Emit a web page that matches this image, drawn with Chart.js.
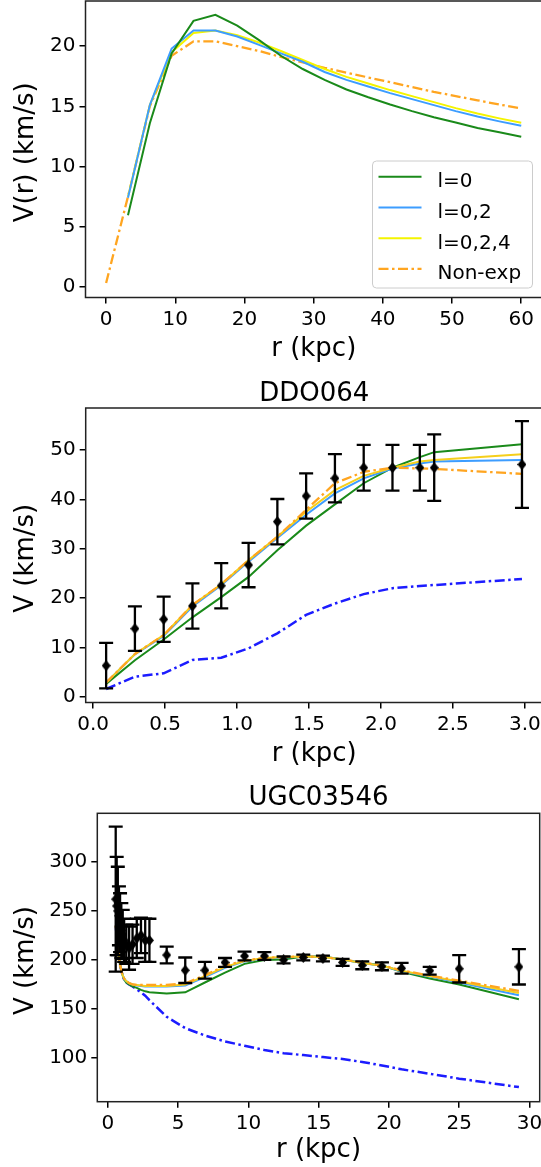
<!DOCTYPE html>
<html>
<head>
<meta charset="utf-8">
<script src="https://cdn.jsdelivr.net/npm/chart.js@4.4.1/dist/chart.umd.min.js"></script>
<style>
  html, body { margin: 0; padding: 0; background: #fff; overflow: hidden; width: 541px; height: 1167px; }
  canvas { position: absolute; left: 0; }
</style>
</head>
<body>
<canvas id="c1" width="560" height="370" style="top:0px"></canvas>
<canvas id="c2" width="560" height="400" style="top:370px"></canvas>
<canvas id="c3" width="560" height="397" style="top:770px"></canvas>
<script>
// ---------- Panel 1: multipole expansion comparison ----------
const rad1 = [0, 3.16, 6.32, 9.47, 12.63, 15.79, 18.95, 22.11, 25.26, 28.42, 31.58, 34.74, 37.89, 41.05, 44.21, 47.37, 50.53, 53.68, 56.84, 60];
const l0_1 = [null, 5.96, 13.6, 19.4, 22.1, 22.6, 21.7, 20.5, 19.2, 18.1, 17.2, 16.4, 15.75, 15.15, 14.6, 14.1, 13.65, 13.2, 12.85, 12.47];
const l02_1 = [null, 7.4, 15.1, 19.8, 21.3, 21.3, 20.8, 20.1, 19.4, 18.7, 17.85, 17.2, 16.65, 16.1, 15.6, 15.1, 14.6, 14.15, 13.75, 13.38];
const l024_1 = [null, 7.5, 15.1, 19.5, 21.1, 21.3, 20.9, 20.3, 19.6, 18.85, 18.1, 17.45, 16.9, 16.35, 15.85, 15.35, 14.85, 14.4, 14.0, 13.63];
const nonexp_1 = [0.33, 7.5, 15.0, 19.2, 20.4, 20.4, 20.0, 19.6, 19.1, 18.65, 18.2, 17.8, 17.4, 17.0, 16.6, 16.2, 15.85, 15.5, 15.15, 14.83];
const xTicks1 = [0, 10, 20, 30, 40, 50, 60];
const xTickLabels1 = ['0', '10', '20', '30', '40', '50', '60'];
const yTicks1 = [0, 5, 10, 15, 20];
const yTickLabels1 = ['0', '5', '10', '15', '20'];

// ---------- Panel 2: DDO064 ----------
const rad2 = [0.09, 0.29, 0.49, 0.69, 0.89, 1.08, 1.28, 1.48, 1.68, 1.88, 2.08, 2.27, 2.37, 2.98];
const vobs2 = [6.3, 13.8, 15.7, 18.4, 22.5, 26.7, 35.5, 40.7, 44.3, 46.45, 46.45, 46.45, 46.45, 47.1];
const verr2 = [4.6, 4.5, 4.6, 4.6, 4.6, 4.5, 4.6, 4.6, 4.9, 4.65, 4.65, 4.65, 6.75, 8.8];
const l0_2 = [2.6, 7.4, 11.6, 16.1, 20.2, 24.3, 29.7, 34.7, 39.0, 43.3, 46.45, 48.6, 49.6, 51.2];
const l02_2 = [2.85, 8.6, 12.3, 18.3, 22.6, 27.4, 32.2, 36.9, 41.25, 44.3, 46.3, 47.3, 47.7, 48.0];
const l024_2 = [2.85, 8.66, 12.5, 18.6, 22.8, 27.7, 32.45, 37.5, 41.9, 44.8, 46.45, 47.7, 48.0, 49.2];
const nonexp_2 = [2.85, 8.66, 12.5, 18.6, 22.8, 27.7, 32.45, 37.9, 43.3, 45.6, 46.45, 46.3, 46.2, 45.2];
const bary_2 = [1.56, 4.06, 4.75, 7.45, 7.9, 9.8, 12.85, 16.6, 18.9, 20.8, 22.0, 22.45, 22.65, 23.87];
const xTicks2 = [0, 0.5, 1, 1.5, 2, 2.5, 3];
const xTickLabels2 = ['0.0', '0.5', '1.0', '1.5', '2.0', '2.5', '3.0'];
const yTicks2 = [0, 10, 20, 30, 40, 50];
const yTickLabels2 = ['0', '10', '20', '30', '40', '50'];

// ---------- Panel 3: UGC03546 ----------
const rad3 = [0.55, 0.62, 0.7, 0.78, 0.86, 0.95, 1.05, 1.15, 1.3, 1.5, 1.75, 2.05, 2.35, 2.65, 2.95, 4.18, 5.5, 6.9, 8.33, 9.72, 11.13, 12.5, 13.9, 15.3, 16.7, 18.1, 19.5, 20.9, 22.9, 25.0, 29.25];
const vobs3 = [262, 255, 250, 245, 238, 230, 226, 220, 216, 212, 216, 222, 225, 220, 220, 205, 189.5, 189.5, 197.5, 204, 204, 200, 202.5, 201.5, 197.5, 194.5, 193.5, 191.5, 189, 191, 193];
const verr3 = [74, 50, 45, 30, 30, 28, 25, 22, 20, 22, 20, 20, 18, 22, 22, 8.5, 13, 8.5, 4.5, 4.5, 4, 3.5, 3, 3, 3.5, 4, 4, 5.5, 4, 14, 18];
const l0_3 = [235, 224, 213, 203, 195, 189, 184, 180, 177, 175, 173, 171.5, 169.5, 168, 167, 165.7, 167, 177, 187, 196, 200, 200.5, 203.5, 203.5, 200.5, 197, 194.5, 188, 181, 175, 160];
const l02_3 = [235, 224, 213, 203, 195, 189, 184.5, 181, 178.5, 176.5, 175, 174, 173.5, 173, 173, 173, 174, 182.5, 192, 198.5, 201.5, 202.5, 203.5, 203, 200.5, 197, 194, 188.5, 183, 177, 164];
const l024_3 = [235, 224, 213, 203, 195, 189, 184.5, 181, 178.5, 176.5, 175, 174.5, 174, 173.5, 173.5, 173.5, 175, 183.5, 193, 199, 202, 203, 203.5, 203, 200.5, 197, 194, 189, 183.5, 178, 166.3];
const nonexp_3 = [235, 224, 213, 203, 195, 189, 184.5, 181, 178.5, 176.5, 175, 174.5, 174.5, 174.5, 174.5, 174.5, 176, 184.5, 194, 199.5, 202, 203, 203.5, 203, 200.5, 197.5, 194.5, 189.5, 184, 179, 168.4];
const bary_3 = [235, 224, 213, 203, 195, 189, 184, 180, 177, 175, 173, 170, 167, 163.5, 159, 142, 130.5, 123, 117, 112.5, 108.2, 105, 103, 101, 99, 96, 92.5, 88.5, 84, 79, 70.4];
const xTicks3 = [0, 5, 10, 15, 20, 25, 30];
const xTickLabels3 = ['0', '5', '10', '15', '20', '25', '30'];
const yTicks3 = [100, 150, 200, 250, 300];
const yTickLabels3 = ['100', '150', '200', '250', '300'];

// ---------- styling ----------
const FONT = "'DejaVu Sans', 'Liberation Sans', sans-serif";
const TICK_SIZE = 20;
const LABEL_SIZE = 26;
const GREEN = '#1a8a1a';
const SKY = '#3d9dff';
const YELLOW = '#f4f400';
const GOLD = '#f5cf1c';
const ORANGE = '#ffa520';
const BLUE = '#1c1cff';
const DASHDOT = [10, 3.5, 2.5, 3.5];
const CANVAS_W = 560;

Chart.defaults.font.family = FONT;
Chart.defaults.color = '#000';

function pts(xs, ys) {
  const out = [];
  xs.forEach((x, i) => { if (ys[i] !== null) out.push({ x: x, y: ys[i] }); });
  return out;
}

function diamondImage(w, h) {
  const c = document.createElement('canvas');
  c.width = w; c.height = h;
  const g = c.getContext('2d');
  g.fillStyle = '#000';
  g.beginPath();
  g.moveTo(w / 2, 0); g.lineTo(w, h / 2); g.lineTo(w / 2, h); g.lineTo(0, h / 2);
  g.closePath();
  g.fill();
  return c;
}
const DIAMOND = diamondImage(9, 11);

function curve(label, xs, ys, color, opts) {
  return Object.assign({
    label: label,
    data: pts(xs, ys),
    borderColor: color,
    backgroundColor: color,
    borderWidth: 2,
    pointRadius: 0,
    fill: false,
    tension: 0
  }, opts || {});
}

function observed(xs, ys, errs) {
  return {
    label: 'data',
    data: pts(xs, ys),
    errors: errs,
    showLine: false,
    pointStyle: DIAMOND,
    pointRadius: 5,
    borderColor: '#000',
    backgroundColor: '#000'
  };
}

// frame, error bars, titles and legend
const decor = {
  id: 'decor',
  afterDatasetsDraw(chart, args, o) {
    const { ctx, scales: { x, y } } = chart;
    chart.data.datasets.forEach(ds => {
      if (!ds.errors) return;
      ctx.save();
      ctx.strokeStyle = '#000';
      ctx.lineWidth = 2.3;
      ds.data.forEach((p, i) => {
        const e = ds.errors[i];
        const px = x.getPixelForValue(p.x);
        const top = y.getPixelForValue(p.y + e);
        const bot = y.getPixelForValue(p.y - e);
        ctx.beginPath();
        ctx.moveTo(px, top); ctx.lineTo(px, bot);
        ctx.moveTo(px - 7, top); ctx.lineTo(px + 7, top);
        ctx.moveTo(px - 7, bot); ctx.lineTo(px + 7, bot);
        ctx.stroke();
      });
      ctx.restore();
    });
  },
  afterDraw(chart, args, o) {
    const { ctx, chartArea: a } = chart;
    ctx.save();
    ctx.strokeStyle = '#222';
    ctx.lineWidth = 1.5;
    ctx.strokeRect(a.left, a.top, a.right - a.left, a.bottom - a.top);

    ctx.fillStyle = '#000';
    ctx.font = LABEL_SIZE + 'px ' + FONT;
    ctx.textBaseline = 'alphabetic';
    ctx.textAlign = 'center';
    const cx = (a.left + a.right) / 2;
    if (o.title) ctx.fillText(o.title, cx, a.top - o.titleGap);
    ctx.fillText(o.xLabel, cx, a.bottom + o.xLabelGap);
    ctx.save();
    ctx.translate(o.yLabelX, (a.top + a.bottom) / 2 + 3);
    ctx.rotate(-Math.PI / 2);
    ctx.fillText(o.yLabel, 0, 0);
    ctx.restore();

    if (o.legend) {
      const L = o.legend;
      const bx = a.right - L.pad - L.w, by = a.bottom - L.pad - L.h;
      ctx.fillStyle = 'rgba(255,255,255,0.8)';
      ctx.strokeStyle = '#cccccc';
      ctx.lineWidth = 1;
      ctx.beginPath();
      ctx.roundRect(bx, by, L.w, L.h, 4);
      ctx.fill();
      ctx.stroke();
      ctx.font = TICK_SIZE + 'px ' + FONT;
      ctx.textAlign = 'left';
      const items = chart.data.datasets.filter(d => d.inLegend);
      items.forEach((d, i) => {
        const ly = by + L.first + i * L.step;
        ctx.strokeStyle = d.borderColor;
        ctx.lineWidth = d.borderWidth;
        ctx.setLineDash(d.borderDash || []);
        ctx.beginPath();
        ctx.moveTo(bx + 6, ly);
        ctx.lineTo(bx + 49, ly);
        ctx.stroke();
        ctx.setLineDash([]);
        ctx.fillStyle = '#000';
        ctx.fillText(d.label, bx + 65, ly + 10.5);
      });
    }
    ctx.restore();
  }
};

function panel(id, o) {
  const cv = document.getElementById(id);
  const H = cv.height;
  const A = o.area;
  return new Chart(cv, {
    type: 'line',
    data: { datasets: o.datasets },
    options: {
      responsive: false,
      animation: false,
      devicePixelRatio: 1,
      layout: { padding: { left: 0, top: A.top, right: CANVAS_W - A.right, bottom: 0 } },
      plugins: {
        legend: { display: false },
        tooltip: { enabled: false },
        decor: o.decor
      },
      scales: {
        x: {
          type: 'linear', min: o.xMin, max: o.xMax,
          afterBuildTicks: s => { s.ticks = o.xTicks.map(v => ({ value: v })); },
          afterFit: s => { s.height = H - A.bottom; s.paddingLeft = 0; s.paddingRight = 0; },
          ticks: { autoSkip: false, maxRotation: 0, padding: 4, color: '#000', font: { size: TICK_SIZE },
                   callback: (v, i) => o.xTickLabels[i] },
          grid: { drawOnChartArea: false, tickLength: 6, color: '#000', lineWidth: 1.5 },
          border: { display: false }
        },
        y: {
          type: 'linear', min: o.yMin, max: o.yMax,
          afterBuildTicks: s => { s.ticks = o.yTicks.map(v => ({ value: v })); },
          afterFit: s => { s.width = A.left; s.paddingTop = 0; s.paddingBottom = 0; },
          ticks: { autoSkip: false, padding: 4, color: '#000', font: { size: TICK_SIZE },
                   callback: (v, i) => o.yTickLabels[i] },
          grid: { drawOnChartArea: false, tickLength: 6, color: '#000', lineWidth: 1.5 },
          border: { display: false }
        }
      }
    },
    plugins: [decor]
  });
}

panel('c1', {
  area: { left: 85.5, top: 1, right: 542, bottom: 297.5 },
  xMin: -2.98, xMax: 63, yMin: -0.88, yMax: 23.75,
  xTicks: xTicks1, xTickLabels: xTickLabels1, yTicks: yTicks1, yTickLabels: yTickLabels1,
  datasets: [
    curve('l=0', rad1, l0_1, GREEN, { inLegend: true }),
    curve('l=0,2', rad1, l02_1, SKY, { inLegend: true }),
    curve('l=0,2,4', rad1, l024_1, YELLOW, { inLegend: true }),
    curve('Non-exp', rad1, nonexp_1, ORANGE, { inLegend: true, borderDash: DASHDOT, borderWidth: 2.3 })
  ],
  decor: { xLabel: 'r (kpc)', yLabel: 'V(r) (km/s)', xLabelGap: 58.5, yLabelX: 33,
           legend: { pad: 9.5, w: 160, h: 127, first: 15.7, step: 30.75 } }
});

panel('c2', {
  area: { left: 85.7, top: 38, right: 542.7, bottom: 332.5 },
  xMin: -0.052, xMax: 3.124, yMin: -1.18, yMax: 58.56,
  xTicks: xTicks2, xTickLabels: xTickLabels2, yTicks: yTicks2, yTickLabels: yTickLabels2,
  datasets: [
    observed(rad2, vobs2, verr2),
    curve('Non-exp', rad2, nonexp_2, ORANGE, { borderDash: DASHDOT, borderWidth: 2.3 }),
    curve('l=0,2,4', rad2, l024_2, GOLD),
    curve('l=0,2', rad2, l02_2, SKY),
    curve('l=0', rad2, l0_2, GREEN),
    curve('baryons', rad2, bary_2, BLUE, { borderDash: DASHDOT, borderWidth: 2.5 })
  ],
  decor: { title: 'DDO064', titleGap: 7.5, xLabel: 'r (kpc)', yLabel: 'V (km/s)', xLabelGap: 58.5, yLabelX: 33 }
});

panel('c3', {
  area: { left: 97.3, top: 43.3, right: 539.7, bottom: 331.7 },
  xMin: -0.76, xMax: 30.73, yMin: 55.5, yMax: 349.5,
  xTicks: xTicks3, xTickLabels: xTickLabels3, yTicks: yTicks3, yTickLabels: yTickLabels3,
  datasets: [
    observed(rad3, vobs3, verr3),
    curve('Non-exp', rad3, nonexp_3, ORANGE, { borderDash: DASHDOT, borderWidth: 2.3 }),
    curve('l=0,2,4', rad3, l024_3, GOLD),
    curve('l=0,2', rad3, l02_3, SKY),
    curve('l=0', rad3, l0_3, GREEN),
    curve('baryons', rad3, bary_3, BLUE, { borderDash: DASHDOT, borderWidth: 2.5 })
  ],
  decor: { title: 'UGC03546', titleGap: 8, xLabel: 'r (kpc)', yLabel: 'V (km/s)', xLabelGap: 55, yLabelX: 33 }
});
</script>
</body>
</html>
